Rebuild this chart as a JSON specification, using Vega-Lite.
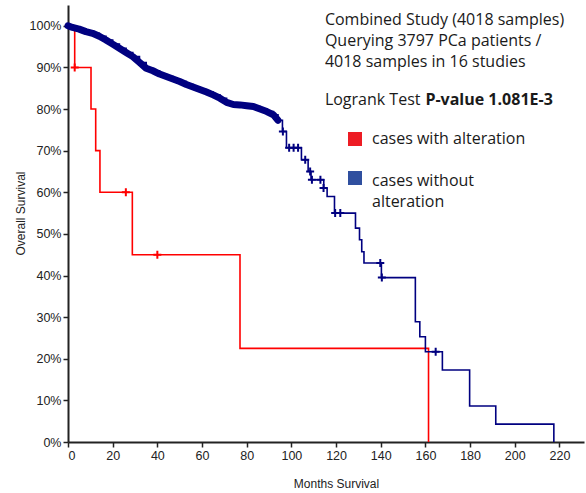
{
  "$schema": "https://vega.github.io/schema/vega-lite/v6.json",
  "width": 516,
  "height": 437,
  "autosize": {"type": "none"},
  "padding": {"left": 68, "top": 5, "right": 2, "bottom": 51},
  "background": "white",
  "config": {"view": {"stroke": null}, "font": "Liberation Sans"},
  "datasets": {
    "curves": [
      {"group": "cases with alteration", "month": 0, "surv": 100},
      {"group": "cases with alteration", "month": 3, "surv": 90},
      {"group": "cases with alteration", "month": 10.3, "surv": 80},
      {"group": "cases with alteration", "month": 12.4, "surv": 70},
      {"group": "cases with alteration", "month": 14.3, "surv": 60},
      {"group": "cases with alteration", "month": 28.8, "surv": 45},
      {"group": "cases with alteration", "month": 77, "surv": 22.5},
      {"group": "cases with alteration", "month": 161.4, "surv": 0},
      {"group": "cases without alteration", "month": 0, "surv": 100},
      {"group": "cases without alteration", "month": 2, "surv": 99.6},
      {"group": "cases without alteration", "month": 5, "surv": 99.2},
      {"group": "cases without alteration", "month": 8, "surv": 98.6},
      {"group": "cases without alteration", "month": 11, "surv": 98.2},
      {"group": "cases without alteration", "month": 14, "surv": 97.5},
      {"group": "cases without alteration", "month": 17, "surv": 96.6},
      {"group": "cases without alteration", "month": 20, "surv": 95.6},
      {"group": "cases without alteration", "month": 23, "surv": 94.6},
      {"group": "cases without alteration", "month": 26, "surv": 93.6},
      {"group": "cases without alteration", "month": 29, "surv": 92.6},
      {"group": "cases without alteration", "month": 32, "surv": 91.2},
      {"group": "cases without alteration", "month": 35, "surv": 89.8},
      {"group": "cases without alteration", "month": 38, "surv": 89.2},
      {"group": "cases without alteration", "month": 41, "surv": 88.4},
      {"group": "cases without alteration", "month": 44, "surv": 87.8},
      {"group": "cases without alteration", "month": 47, "surv": 87.2},
      {"group": "cases without alteration", "month": 50, "surv": 86.6},
      {"group": "cases without alteration", "month": 53, "surv": 85.9},
      {"group": "cases without alteration", "month": 56, "surv": 85.3},
      {"group": "cases without alteration", "month": 59, "surv": 84.7},
      {"group": "cases without alteration", "month": 62, "surv": 84.1},
      {"group": "cases without alteration", "month": 65, "surv": 83.4},
      {"group": "cases without alteration", "month": 68, "surv": 82.6},
      {"group": "cases without alteration", "month": 71, "surv": 81.6},
      {"group": "cases without alteration", "month": 74, "surv": 81.1},
      {"group": "cases without alteration", "month": 77, "surv": 81.0},
      {"group": "cases without alteration", "month": 80, "surv": 80.8},
      {"group": "cases without alteration", "month": 83, "surv": 80.6},
      {"group": "cases without alteration", "month": 86, "surv": 80.0},
      {"group": "cases without alteration", "month": 89, "surv": 79.4},
      {"group": "cases without alteration", "month": 92, "surv": 78.6},
      {"group": "cases without alteration", "month": 94, "surv": 77.3},
      {"group": "cases without alteration", "month": 96, "surv": 74.6},
      {"group": "cases without alteration", "month": 97.8, "surv": 70.7},
      {"group": "cases without alteration", "month": 104.5, "surv": 67.8},
      {"group": "cases without alteration", "month": 107.5, "surv": 65},
      {"group": "cases without alteration", "month": 108.8, "surv": 63},
      {"group": "cases without alteration", "month": 114.5, "surv": 61},
      {"group": "cases without alteration", "month": 116, "surv": 59},
      {"group": "cases without alteration", "month": 119.3, "surv": 55},
      {"group": "cases without alteration", "month": 128.7, "surv": 51.4},
      {"group": "cases without alteration", "month": 130.5, "surv": 48.6},
      {"group": "cases without alteration", "month": 131.5, "surv": 45.7},
      {"group": "cases without alteration", "month": 132.5, "surv": 43},
      {"group": "cases without alteration", "month": 140.3, "surv": 39.5},
      {"group": "cases without alteration", "month": 155.5, "surv": 28.9},
      {"group": "cases without alteration", "month": 157.5, "surv": 25.3},
      {"group": "cases without alteration", "month": 160, "surv": 21.7},
      {"group": "cases without alteration", "month": 167.6, "surv": 17.3},
      {"group": "cases without alteration", "month": 179.8, "surv": 8.65},
      {"group": "cases without alteration", "month": 191.5, "surv": 4.3},
      {"group": "cases without alteration", "month": 217.5, "surv": 0}
    ],
    "censored": [
      {"group": "cases with alteration", "month": 3, "surv": 90},
      {"group": "cases with alteration", "month": 25.9, "surv": 60},
      {"group": "cases with alteration", "month": 40, "surv": 45},
      {"group": "cases without alteration", "month": 96.2, "surv": 74.6},
      {"group": "cases without alteration", "month": 99, "surv": 70.7},
      {"group": "cases without alteration", "month": 101, "surv": 70.7},
      {"group": "cases without alteration", "month": 103, "surv": 70.7},
      {"group": "cases without alteration", "month": 106.2, "surv": 67.8},
      {"group": "cases without alteration", "month": 108.4, "surv": 65},
      {"group": "cases without alteration", "month": 109.2, "surv": 63},
      {"group": "cases without alteration", "month": 113, "surv": 63},
      {"group": "cases without alteration", "month": 114.4, "surv": 61},
      {"group": "cases without alteration", "month": 119.6, "surv": 55},
      {"group": "cases without alteration", "month": 121.9, "surv": 55},
      {"group": "cases without alteration", "month": 139.8, "surv": 43},
      {"group": "cases without alteration", "month": 140.5, "surv": 39.5},
      {"group": "cases without alteration", "month": 164.6, "surv": 21.7}
    ],
    "notes": [
      {"lines": ["Combined Study (4018 samples)", "Querying 3797 PCa patients /", "4018 samples in 16 studies"]}
    ]
  },
  "layer": [
    {
      "data": {"name": "curves"},
      "mark": {"type": "line", "interpolate": "step-after", "strokeWidth": 1.6},
      "encoding": {
        "x": {
          "field": "month", "type": "quantitative",
          "scale": {"domain": [0, 231], "nice": false, "zero": false},
          "axis": {
            "values": [0, 20, 40, 60, 80, 100, 120, 140, 160, 180, 200, 220],
            "grid": false, "domainColor": "#222", "domainWidth": 2,
            "tickColor": "#222", "tickWidth": 1.5, "tickSize": 5,
            "labelFont": "Liberation Sans", "labelFontSize": 12.5, "labelColor": "#222", "labelPadding": 2,
            "title": "Months Survival", "titleFont": "Liberation Sans", "titleFontSize": 12, "titleFontWeight": "normal",
            "titleColor": "#222", "titleX": 268, "titleY": 36
          }
        },
        "y": {
          "field": "surv", "type": "quantitative",
          "scale": {"domain": [0, 105], "nice": false, "zero": false},
          "axis": {
            "values": [0, 10, 20, 30, 40, 50, 60, 70, 80, 90, 100],
            "labelExpr": "datum.value + '%'",
            "grid": false, "domainColor": "#222", "domainWidth": 2,
            "tickColor": "#222", "tickWidth": 1.5, "tickSize": 5,
            "labelFont": "Liberation Sans", "labelFontSize": 12.5, "labelColor": "#222", "labelPadding": 2,
            "title": "Overall Survival", "titleFont": "Liberation Sans", "titleFontSize": 12, "titleFontWeight": "normal",
            "titleColor": "#222", "titleX": -41, "titleY": 208
          }
        },
        "color": {
          "field": "group", "type": "nominal",
          "scale": {"domain": ["cases with alteration", "cases without alteration"], "range": ["#ff0000", "#000080"]},
          "legend": {
            "title": null, "orient": "none", "legendX": 279, "legendY": 126,
            "symbolType": "square", "symbolSize": 196, "symbolStrokeWidth": 0,
            "labelFont": "Open Sans", "labelFontSize": 16, "labelColor": "#1a1a1a", "labelOffset": 9, "labelLimit": 0,
            "rowPadding": 23,
            "labelExpr": "datum.value === 'cases without alteration' ? ['cases without', 'alteration'] : datum.label",
            "encode": {
              "symbols": {"update": {"fill": {"signal": "datum.value === 'cases with alteration' ? '#ed1c24' : '#2f4f9f'"}, "stroke": {"value": "transparent"}, "opacity": {"value": 1}}},
              "labels": {"update": {"dy": {"signal": "datum.value === 'cases without alteration' ? 2.5 : 0"}, "lineHeight": {"value": 21}}}
            }
          }
        }
      }
    },
    {
      "data": {"name": "curves"},
      "transform": [{"filter": "datum.group === 'cases without alteration' && datum.month <= 94"}],
      "mark": {"type": "line", "interpolate": "linear", "strokeWidth": 7, "strokeJoin": "round", "strokeCap": "round"},
      "encoding": {
        "x": {"field": "month", "type": "quantitative"},
        "y": {"field": "surv", "type": "quantitative"},
        "color": {"field": "group", "type": "nominal"}
      }
    },
    {
      "data": {"name": "censored"},
      "mark": {"type": "point", "shape": "M-1,0H1M0,-1V1", "filled": false, "strokeWidth": 2, "size": 64, "opacity": 1},
      "encoding": {
        "x": {"field": "month", "type": "quantitative"},
        "y": {"field": "surv", "type": "quantitative"},
        "color": {"field": "group", "type": "nominal"}
      }
    },
    {
      "data": {"name": "notes"},
      "mark": {"type": "text", "align": "left", "baseline": "middle", "font": "Open Sans", "fontSize": 16, "lineHeight": 21, "color": "#1a1a1a"},
      "encoding": {
        "x": {"datum": 115, "type": "quantitative"},
        "y": {"datum": 101.4, "type": "quantitative"},
        "text": {"field": "lines"}
      }
    },
    {
      "data": {"values": [{"t": "Logrank Test"}]},
      "mark": {"type": "text", "align": "left", "baseline": "middle", "font": "Open Sans", "fontSize": 16, "color": "#1a1a1a"},
      "encoding": {
        "x": {"datum": 115, "type": "quantitative"},
        "y": {"datum": 82.2, "type": "quantitative"},
        "text": {"field": "t"}
      }
    },
    {
      "data": {"values": [{"t": "P-value 1.081E-3"}]},
      "mark": {"type": "text", "align": "left", "baseline": "middle", "font": "Open Sans", "fontSize": 16, "fontWeight": "bold", "color": "#1a1a1a"},
      "encoding": {
        "x": {"datum": 160, "type": "quantitative"},
        "y": {"datum": 82.2, "type": "quantitative"},
        "text": {"field": "t"}
      }
    }
  ]
}
